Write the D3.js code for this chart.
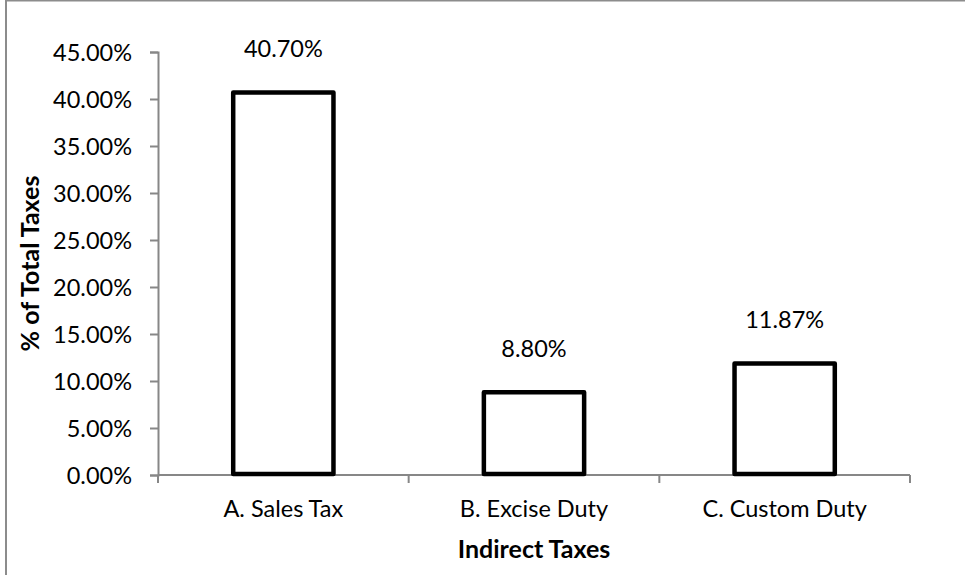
<!DOCTYPE html>
<html>
<head>
<meta charset="utf-8">
<script src="https://cdn.jsdelivr.net/npm/d3@7"></script>
<style>
  html, body { margin: 0; padding: 0; background: #fff; }
  svg { display: block; }
  text { font-family: Lato, "Open Sans", sans-serif; fill: #000; }
</style>
</head>
<body>
<svg id="chart" width="965" height="575"></svg>
<script>
// Share of total taxes collected through indirect taxes
const categories = ["A. Sales Tax", "B. Excise Duty", "C. Custom Duty"];
const shares = [40.70, 8.80, 11.87];          // percent of total taxes
const yTicks = [0, 5, 10, 15, 20, 25, 30, 35, 40, 45];
const xTitle = "Indirect Taxes";
const yTitle = "% of Total Taxes";

const svg = d3.select("#chart");
const W = 965, H = 575;
const plot = { left: 158, right: 910, top: 52, bottom: 475 };
const labelSize = 23.5, titleSize = 25;

// outer chart frame (right and bottom edges fall outside the canvas)
svg.append("rect")
  .attr("x", 6).attr("y", 0.5)
  .attr("width", W + 10).attr("height", H + 10)
  .attr("fill", "#fff")
  .attr("stroke", "#8c8c8c").attr("stroke-width", 2);

const x = d3.scaleBand()
  .domain(categories)
  .range([plot.left, plot.right])
  .paddingInner(0.6)
  .paddingOuter(0.3);

const y = d3.scaleLinear()
  .domain([0, 45])
  .range([plot.bottom, plot.top]);

const fmt = v => v.toFixed(2) + "%";
const axisColor = "#878787";

// y axis
const yAxis = svg.append("g")
  .attr("transform", `translate(${plot.left},0)`)
  .call(d3.axisLeft(y).tickValues(yTicks).tickSize(8).tickPadding(18).tickFormat(fmt));
yAxis.select(".domain").attr("stroke", axisColor).attr("stroke-width", 2);
yAxis.selectAll(".tick line").attr("stroke", axisColor).attr("stroke-width", 2);
yAxis.selectAll(".tick text")
  .attr("font-size", labelSize).attr("font-family", "Lato, sans-serif").attr("fill", "#000")
  .attr("dy", "0.36em");

// x axis: baseline with tick marks at category boundaries
const xAxis = svg.append("g").attr("transform", `translate(0,${plot.bottom})`);
xAxis.append("line")
  .attr("x1", plot.left).attr("x2", plot.right)
  .attr("stroke", axisColor).attr("stroke-width", 2);
const step = x.step();
const boundaries = d3.range(categories.length + 1).map(i => plot.left + i * step);
xAxis.selectAll("line.tick")
  .data(boundaries)
  .join("line")
  .attr("class", "tick")
  .attr("x1", d => d).attr("x2", d => d)
  .attr("y1", 0).attr("y2", 8)
  .attr("stroke", axisColor).attr("stroke-width", 2);
xAxis.selectAll("text")
  .data(categories)
  .join("text")
  .attr("x", d => x(d) + x.bandwidth() / 2)
  .attr("y", 42)
  .attr("text-anchor", "middle")
  .attr("font-size", labelSize)
  .text(d => d);

// bars
svg.append("g").selectAll("rect")
  .data(categories)
  .join("rect")
  .attr("x", d => x(d))
  .attr("width", x.bandwidth())
  .attr("y", (d, i) => y(shares[i]))
  .attr("height", (d, i) => y(0) - y(shares[i]) - 1)
  .attr("fill", "#fff")
  .attr("stroke", "#000")
  .attr("stroke-width", 4.5)
  .attr("stroke-linejoin", "round");

// value labels
svg.append("g").selectAll("text")
  .data(categories)
  .join("text")
  .attr("x", d => x(d) + x.bandwidth() / 2)
  .attr("y", (d, i) => y(shares[i]) - 35)
  .attr("text-anchor", "middle")
  .attr("font-size", labelSize)
  .text((d, i) => fmt(shares[i]));

// axis titles
svg.append("text")
  .attr("x", (plot.left + plot.right) / 2)
  .attr("y", 558)
  .attr("text-anchor", "middle")
  .attr("font-size", titleSize)
  .attr("font-weight", "bold")
  .text(xTitle);

svg.append("text")
  .attr("transform", `translate(39,${(plot.top + plot.bottom) / 2}) rotate(-90)`)
  .attr("text-anchor", "middle")
  .attr("font-size", titleSize)
  .attr("font-weight", "bold")
  .text(yTitle);
</script>
</body>
</html>
